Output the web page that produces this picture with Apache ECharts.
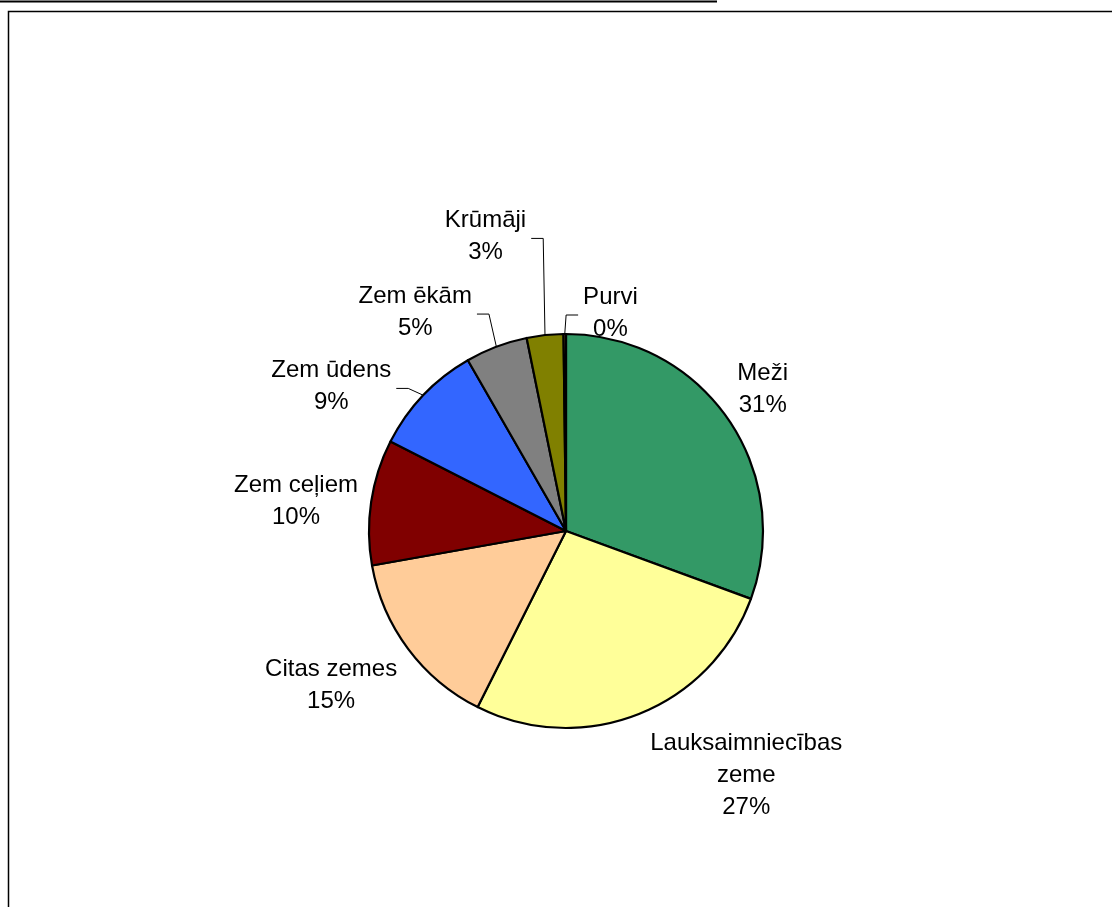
<!DOCTYPE html>
<html>
<head>
<meta charset="utf-8">
<script src="https://cdn.jsdelivr.net/npm/echarts@6/dist/echarts.min.js"></script>
<style>
html,body{margin:0;padding:0;background:#fff;}
#c{width:1112px;height:907px;}
</style>
</head>
<body>
<div id="c"></div>
<script>
// ---- data ----
const categories = ['Meži', 'Lauksaimniecības zeme', 'Citas zemes', 'Zem ceļiem', 'Zem ūdens', 'Zem ēkām', 'Krūmāji', 'Purvi'];
const shares = [30.6, 26.8, 14.8, 10.3, 9.2, 5.1, 3.0, 0.2];

// ---- style ----
const sliceColors = ['#339966', '#FFFF99', '#FFCC99', '#800000', '#3366FF', '#808080', '#808000', '#996633'];
const leaderLine = [false, false, false, false, true, true, true, true];
const labelNudge = [[-2, 1], [65, -2], [-8, 5], [6, 7], [-34, 27], [-54, 14], [-53, -47], [46, 31]];

const CX = 566, CY = 531, R = 197, GAP = 20;
const LINE_PAD = 5, LINE_RUN = 12;
const total = shares.reduce((a, b) => a + b, 0);
const mids = [];
let acc = 0;
shares.forEach(v => { mids.push((acc + v / 2) / total * 2 * Math.PI); acc += v; });

function wrap(name, maxLen) {
  const words = name.split(' ');
  const lines = [];
  let cur = '';
  words.forEach(w => {
    if (cur && (cur + ' ' + w).length > maxLen) { lines.push(cur); cur = w; }
    else cur = cur ? cur + ' ' + w : w;
  });
  if (cur) lines.push(cur);
  return lines.join('\n');
}

const seriesData = categories.map((name, i) => ({
  name: name,
  value: shares[i],
  itemStyle: { color: sliceColors[i] },
  labelLine: leaderLine[i]
    ? { show: true, length: 8, length2: 12, smooth: false, lineStyle: { color: '#000', width: 1 } }
    : { show: false }
}));

const chart = echarts.init(document.getElementById('c'), null, { renderer: 'canvas' });
chart.setOption({
  animation: false,
  backgroundColor: '#fff',
  graphic: [
    { type: 'line', z: 10, shape: { x1: 0, y1: 1.5, x2: 717, y2: 1.5 }, style: { stroke: '#000', lineWidth: 2 } },
    { type: 'polyline', z: 10, shape: { points: [[8.5, 907], [8.5, 11.5], [1112, 11.5]] }, style: { stroke: '#000', lineWidth: 1.5, fill: null } }
  ],
  series: [{
    type: 'pie',
    center: [CX, CY],
    radius: R,
    startAngle: 90,
    clockwise: true,
    avoidLabelOverlap: false,
    emphasis: { disabled: true },
    itemStyle: { borderColor: '#000', borderWidth: 2.2 },
    label: {
      show: true,
      position: 'outside',
      color: '#000',
      fontFamily: '"Liberation Sans", Arial, sans-serif',
      fontSize: 24,
      lineHeight: 32,
      formatter: p => wrap(p.name, 16) + '\n' + Math.round(p.percent) + '%'
    },
    labelLayout: function (p) {
      const i = p.dataIndex;
      const a = mids[i];
      const ux = Math.sin(a), uy = -Math.cos(a);
      const w = p.labelRect.width, h = p.labelRect.height;
      const x = CX + (R + GAP) * ux + w / 2 * ux + labelNudge[i][0];
      const y = CY + (R + GAP) * uy + h / 2 * uy + labelNudge[i][1];
      const out = { x: x, y: y, align: 'center', verticalAlign: 'middle' };
      if (leaderLine[i]) {
        const ex = CX + R * ux, ey = CY + R * uy;
        const side = ex > x ? 1 : -1;
        const sx = x + side * (w / 2 + LINE_PAD);
        const ly = y + 2;
        out.labelLinePoints = [[sx, ly], [sx + side * LINE_RUN, ly], [ex, ey]];
      }
      return out;
    },
    data: seriesData
  }]
});
</script>
</body>
</html>
